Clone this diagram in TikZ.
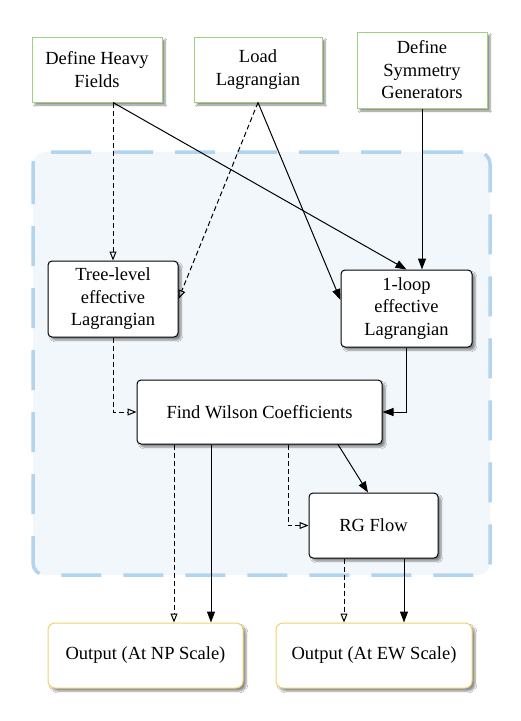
\documentclass[tikz,border=0pt]{standalone}
\usepackage{fontspec}
\setmainfont{Liberation Serif}
\usetikzlibrary{arrows.meta,shadows,shadows.blur}
\definecolor{gborder}{RGB}{160,210,125}
\definecolor{yborder}{RGB}{240,210,110}
\definecolor{rborder}{RGB}{178,212,238}
\definecolor{rfill}{RGB}{242,247,252}
\tikzset{
  box/.style={draw, rounded corners=4pt, fill=white, line width=1pt, align=center,
    font=\fontsize{18.5}{22.5}\selectfont, inner sep=2pt,
    blur shadow={shadow xshift=3pt, shadow yshift=-3pt, shadow blur steps=6, shadow opacity=45}},
  inbox/.style={box, draw=gborder, rounded corners=0pt},
  outbox/.style={box, draw=yborder, rounded corners=7pt},
  solidarr/.style={line width=1pt, -{Triangle[length=11pt,width=8pt]}},
  dasharr/.style={line width=1pt, dash pattern=on 5pt off 3pt, -{Triangle[open,length=9pt,width=7pt]}},
}
\begin{document}
\begin{tikzpicture}[x=1pt,y=-1pt]
\useasboundingbox (0,0) rectangle (520,721);
\fill[white] (0,0) rectangle (520,721);
% region
\draw[rborder, fill=rfill, line width=3.5pt, dash pattern=on 40pt off 22pt, rounded corners=12pt]
  (33,152) rectangle (490,575);
% nodes
\node[inbox, minimum width=130pt, minimum height=65pt] (heavy) at (97,69.5) {Define Heavy\\Fields};
\node[inbox, minimum width=128pt, minimum height=65pt] (load) at (258,69.5) {Load\\Lagrangian};
\node[inbox, minimum width=130pt, minimum height=76pt] (sym) at (422,70) {Define\\Symmetry\\Generators};
\node[box, minimum width=130pt, minimum height=76pt] (tree) at (113,299) {Tree-level\\effective\\Lagrangian};
\node[box, minimum width=131pt, minimum height=77pt] (loop) at (406.5,308.5) {1-loop\\effective\\Lagrangian};
\node[box, minimum width=245pt, minimum height=64pt] (wilson) at (259.5,412) {Find Wilson Coefficients};
\node[box, minimum width=129pt, minimum height=65pt] (rg) at (373.5,525.5) {RG Flow};
\node[outbox, minimum width=195pt, minimum height=65pt] (outnp) at (145.5,655.5) {Output (At NP Scale)};
\node[outbox, minimum width=196pt, minimum height=65pt] (outew) at (374,655.5) {Output (At EW Scale)};
% anchor coordinates
\coordinate (hs) at (tree.north |- heavy.south);
\coordinate (loopw) at (loop.west |- 0,300);
\coordinate (w1) at (174,0);
\coordinate (w2) at (211,0);
\coordinate (w3) at (288,0);
\coordinate (w4) at (338,0);
\coordinate (r4) at (368,0);
\coordinate (g1) at (344,0);
\coordinate (g2) at (404,0);
% connectors
\draw[dasharr] (hs) -- (tree.north);
\draw[solidarr] (hs) -- (loop.north);
\draw[solidarr] (load.south) -- (loopw);
\draw[dasharr] (load.south) -- (tree.east);
\draw[solidarr] (sym.south) -- (sym.south |- loop.north);
\draw[solidarr] (loop.south) |- (wilson.east);
\draw[dasharr] (tree.south) |- (wilson.west);
\draw[dasharr] (w1 |- wilson.south) -- (w1 |- outnp.north);
\draw[solidarr] (w2 |- wilson.south) -- (w2 |- outnp.north);
\draw[dasharr] (w3 |- wilson.south) |- (rg.west);
\draw[solidarr] (w4 |- wilson.south) -- (r4 |- rg.north);
\draw[dasharr] (g1 |- rg.south) -- (g1 |- outew.north);
\draw[solidarr] (g2 |- rg.south) -- (g2 |- outew.north);
\end{tikzpicture}
\end{document}
